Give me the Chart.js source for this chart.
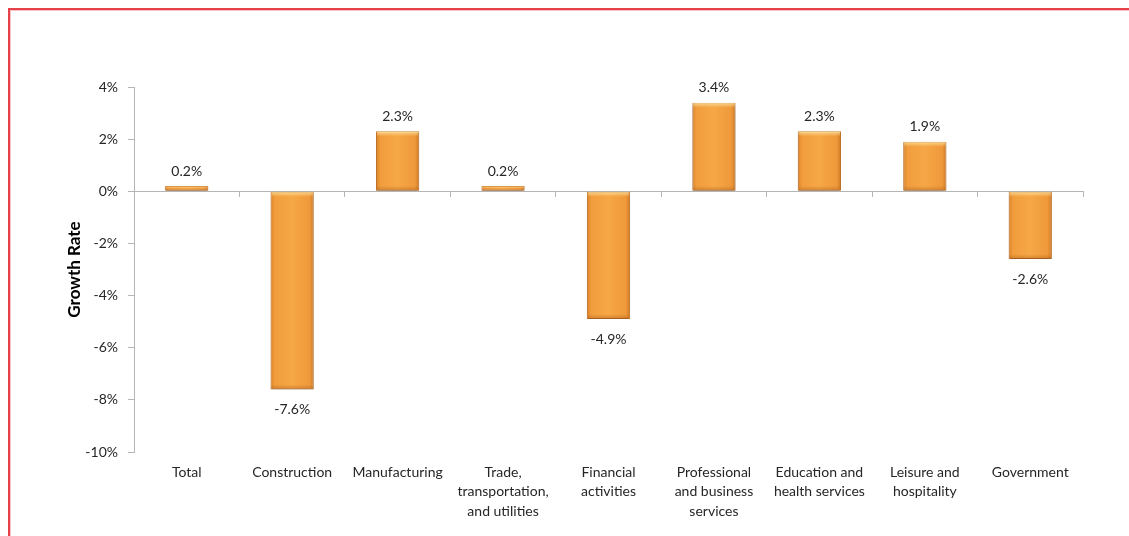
<!DOCTYPE html>
<html>
<head>
<meta charset="utf-8">
<script src="https://cdn.jsdelivr.net/npm/chart.js@4/dist/chart.umd.min.js"></script>
<style>
  html, body { margin: 0; padding: 0; background: #fff; overflow: hidden; }
  #wrap { position: relative; width: 1129px; height: 536px; }
  #frame {
    position: absolute; left: 8px; top: 8px; right: -10px; bottom: -10px;
    border-top: 2px solid #e5414b; border-left: 2px solid #e5414b;
    box-shadow: inset 1px 1px 0 #f6c1c5;
  }
  canvas { position: absolute; left: 0; top: 0; }
</style>
</head>
<body>
<div id="wrap">
  <div id="frame"></div>
  <canvas id="growthChart" width="1129" height="536"></canvas>
</div>
<script>
const categories = [
  'Total',
  'Construction',
  'Manufacturing',
  ['Trade,', 'transportation,', 'and utilities'],
  ['Financial', 'activities'],
  ['Professional', 'and business', 'services'],
  ['Education and', 'health services'],
  ['Leisure and', 'hospitality'],
  'Government'
];
const growthRates = [0.2, -7.6, 2.3, 0.2, -4.9, 3.4, 2.3, 1.9, -2.6];
const yTicks = [4, 2, 0, -2, -4, -6, -8, -10];

const FONT = 'Lato, "Open Sans", sans-serif';
const TEXT = '#262626';
const BAR_PCT = 0.41;

// horizontal shading so the bars look rounded
function barFill(ctx) {
  const xs = ctx.chart.scales.x;
  if (ctx.type !== 'data' || !xs || !xs.width) return '#f4a240';
  const cx = xs.getPixelForValue(ctx.dataIndex);
  const w = xs.width / categories.length * BAR_PCT;
  const g = ctx.chart.ctx.createLinearGradient(cx - w / 2, 0, cx + w / 2, 0);
  g.addColorStop(0, '#dc8428');
  g.addColorStop(0.1, '#f19d3e');
  g.addColorStop(0.5, '#f6a746');
  g.addColorStop(0.9, '#ef993b');
  g.addColorStop(1, '#cf7a24');
  return g;
}

const barShadow = {
  id: 'barShadow',
  beforeDatasetsDraw(chart) {
    const c = chart.ctx;
    c.save();
    c.shadowColor = 'rgba(0,0,0,0.28)';
    c.shadowBlur = 3;
    c.shadowOffsetY = 2;
  },
  afterDatasetsDraw(chart) {
    chart.ctx.restore();
  }
};

// light edge along the top of each bar, darker edge along the bottom
const barBevel = {
  id: 'barBevel',
  afterDatasetsDraw(chart) {
    const c = chart.ctx;
    c.save();
    chart.getDatasetMeta(0).data.forEach(bar => {
      const l = bar.x - bar.width / 2 + 1;
      const w = bar.width - 2;
      const top = Math.min(bar.y, bar.base);
      const bot = Math.max(bar.y, bar.base);
      const h = bot - top;
      const band = Math.min(5, h / 2);
      if (band <= 0) return;
      let g = c.createLinearGradient(0, top, 0, top + band);
      g.addColorStop(0, 'rgba(255,236,170,0.75)');
      g.addColorStop(1, 'rgba(255,236,170,0)');
      c.fillStyle = g;
      c.fillRect(l, top + 0.5, w, band);
      g = c.createLinearGradient(0, bot, 0, bot - band);
      g.addColorStop(0, 'rgba(160,80,15,0.4)');
      g.addColorStop(1, 'rgba(160,80,15,0)');
      c.fillStyle = g;
      c.fillRect(l, bot - band - 0.5, w, band);
    });
    c.restore();
  }
};

const valueLabels = {
  id: 'valueLabels',
  afterDatasetsDraw(chart) {
    const c = chart.ctx;
    const meta = chart.getDatasetMeta(0);
    c.save();
    c.font = '14px ' + FONT;
    c.fillStyle = TEXT;
    c.textAlign = 'center';
    meta.data.forEach((bar, i) => {
      const v = growthRates[i];
      const txt = v.toFixed(1) + '%';
      if (v >= 0) {
        c.textBaseline = 'bottom';
        c.fillText(txt, bar.x, bar.y - 8);
      } else {
        c.textBaseline = 'top';
        c.fillText(txt, bar.x, bar.y + 13);
      }
    });
    c.restore();
  }
};

new Chart(document.getElementById('growthChart'), {
  type: 'bar',
  data: {
    labels: categories,
    datasets: [{
      data: growthRates,
      backgroundColor: barFill,
      borderColor: '#cc7a2c',
      borderWidth: 1,
      borderSkipped: false,
      categoryPercentage: 1,
      barPercentage: BAR_PCT
    }]
  },
  options: {
    responsive: false,
    animation: false,
    events: [],
    layout: { padding: { top: 87, right: 46, left: 64, bottom: 0 } },
    plugins: { legend: { display: false }, tooltip: { enabled: false } },
    scales: {
      x: {
        type: 'category',
        position: 'bottom',
        offset: true,
        grid: { display: false, drawTicks: false },
        border: { display: false },
        ticks: {
          color: TEXT,
          font: { family: FONT, size: 14, lineHeight: 1.38 },
          padding: 11,
          maxRotation: 0,
          autoSkip: false
        },
        afterFit(scale) { scale.height = 84; }
      },
      // zero line with boundary ticks
      x2: {
        type: 'category',
        position: { y: 0 },
        offset: true,
        grid: { offset: true, drawOnChartArea: false, drawTicks: true, tickLength: 5, color: '#b5b5b5' },
        border: { display: true, color: '#b5b5b5', width: 1 },
        ticks: { display: false }
      },
      y: {
        min: -10,
        max: 4,
        afterBuildTicks(scale) { scale.ticks = yTicks.map(v => ({ value: v })); },
        grid: { drawOnChartArea: false, drawTicks: true, tickLength: 6, color: '#b5b5b5' },
        border: { display: true, color: '#b5b5b5', width: 1 },
        ticks: {
          color: TEXT,
          font: { family: FONT, size: 14 },
          padding: 10,
          callback: v => v + '%'
        },
        title: {
          display: true,
          text: 'Growth Rate',
          color: '#000',
          font: { family: FONT, size: 17, weight: 'bold' },
          padding: 0
        },
        afterFit(scale) { scale.width = 70; }
      }
    }
  },
  plugins: [barShadow, barBevel, valueLabels]
});
</script>
</body>
</html>
